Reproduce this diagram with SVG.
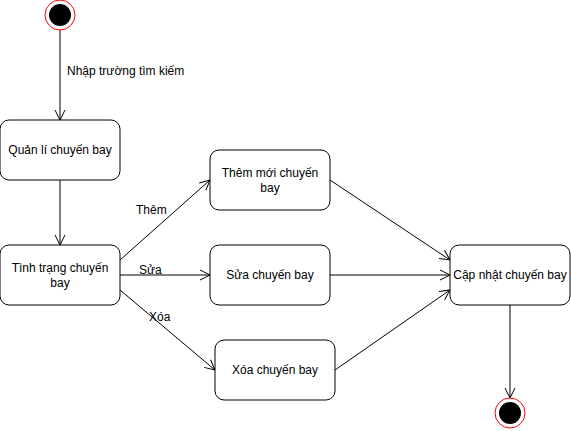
<svg xmlns="http://www.w3.org/2000/svg" width="571" height="431" viewBox="0 0 571 431">
<style>
.box{fill:#fff;stroke:#000;stroke-width:1}
.t{font-family:"Liberation Sans",Arial,sans-serif;font-size:12px;fill:#000;text-anchor:middle}
.l{font-family:"Liberation Sans",Arial,sans-serif;font-size:12px;fill:#000}
.e{stroke:#000;stroke-width:1;fill:none;marker-end:url(#a)}
.ring{fill:#fff;stroke:#ff0000;stroke-width:1}
</style>
<defs>
<marker id="a" markerUnits="userSpaceOnUse" markerWidth="12" markerHeight="12" refX="10" refY="5" orient="auto" viewBox="0 0 12 10" overflow="visible">
<path d="M0,0 L10,5 L0,10" fill="none" stroke="#000" stroke-width="1"/>
</marker>
</defs>
<rect width="571" height="431" fill="#fff"/>
<g id="connectors">
<line class="e" x1="60" y1="30" x2="60" y2="120"/>
<line class="e" x1="60" y1="180" x2="60" y2="245"/>
<line class="e" x1="120" y1="260" x2="210" y2="180"/>
<line class="e" x1="120" y1="275" x2="210" y2="275"/>
<line class="e" x1="120" y1="290" x2="215" y2="370"/>
<line class="e" x1="330" y1="180" x2="450" y2="260"/>
<line class="e" x1="330" y1="275" x2="450" y2="275"/>
<line class="e" x1="335" y1="370" x2="450" y2="290"/>
<line class="e" x1="510" y1="305" x2="510" y2="398"/>
<text class="l" x="67" y="75">Nhập trường tìm kiếm</text>
<text class="l" x="136" y="214">Thêm</text>
<text class="l" x="139" y="274">Sửa</text>
<text class="l" x="149" y="321">Xóa</text>
</g>
<g id="start">
<circle class="ring" cx="60" cy="15" r="15"/>
<circle cx="60" cy="15" r="11" fill="#000"/>
</g>
<g id="quanli">
<rect class="box" x="0" y="120" width="120" height="60" rx="9"/>
<text class="t" x="60" y="154">Quản lí chuyến bay</text>
</g>
<g id="tinhtrang">
<rect class="box" x="0" y="245" width="120" height="60" rx="9"/>
<text class="t" x="60" y="272">Tình trạng chuyến</text>
<text class="t" x="60" y="287">bay</text>
</g>
<g id="themmoi">
<rect class="box" x="210" y="150" width="120" height="60" rx="9"/>
<text class="t" x="270" y="177">Thêm mới chuyến</text>
<text class="t" x="270" y="192">bay</text>
</g>
<g id="sua">
<rect class="box" x="210" y="245" width="120" height="60" rx="9"/>
<text class="t" x="270" y="279">Sửa chuyến bay</text>
</g>
<g id="xoa">
<rect class="box" x="215" y="340" width="120" height="60" rx="9"/>
<text class="t" x="275" y="374">Xóa chuyến bay</text>
</g>
<g id="capnhat">
<rect class="box" x="450" y="245" width="120" height="60" rx="9"/>
<text class="t" x="510" y="279">Cập nhật chuyến bay</text>
</g>
<g id="end">
<circle class="ring" cx="510" cy="413" r="15"/>
<circle cx="510" cy="413" r="11" fill="#000"/>
</g>
</svg>
